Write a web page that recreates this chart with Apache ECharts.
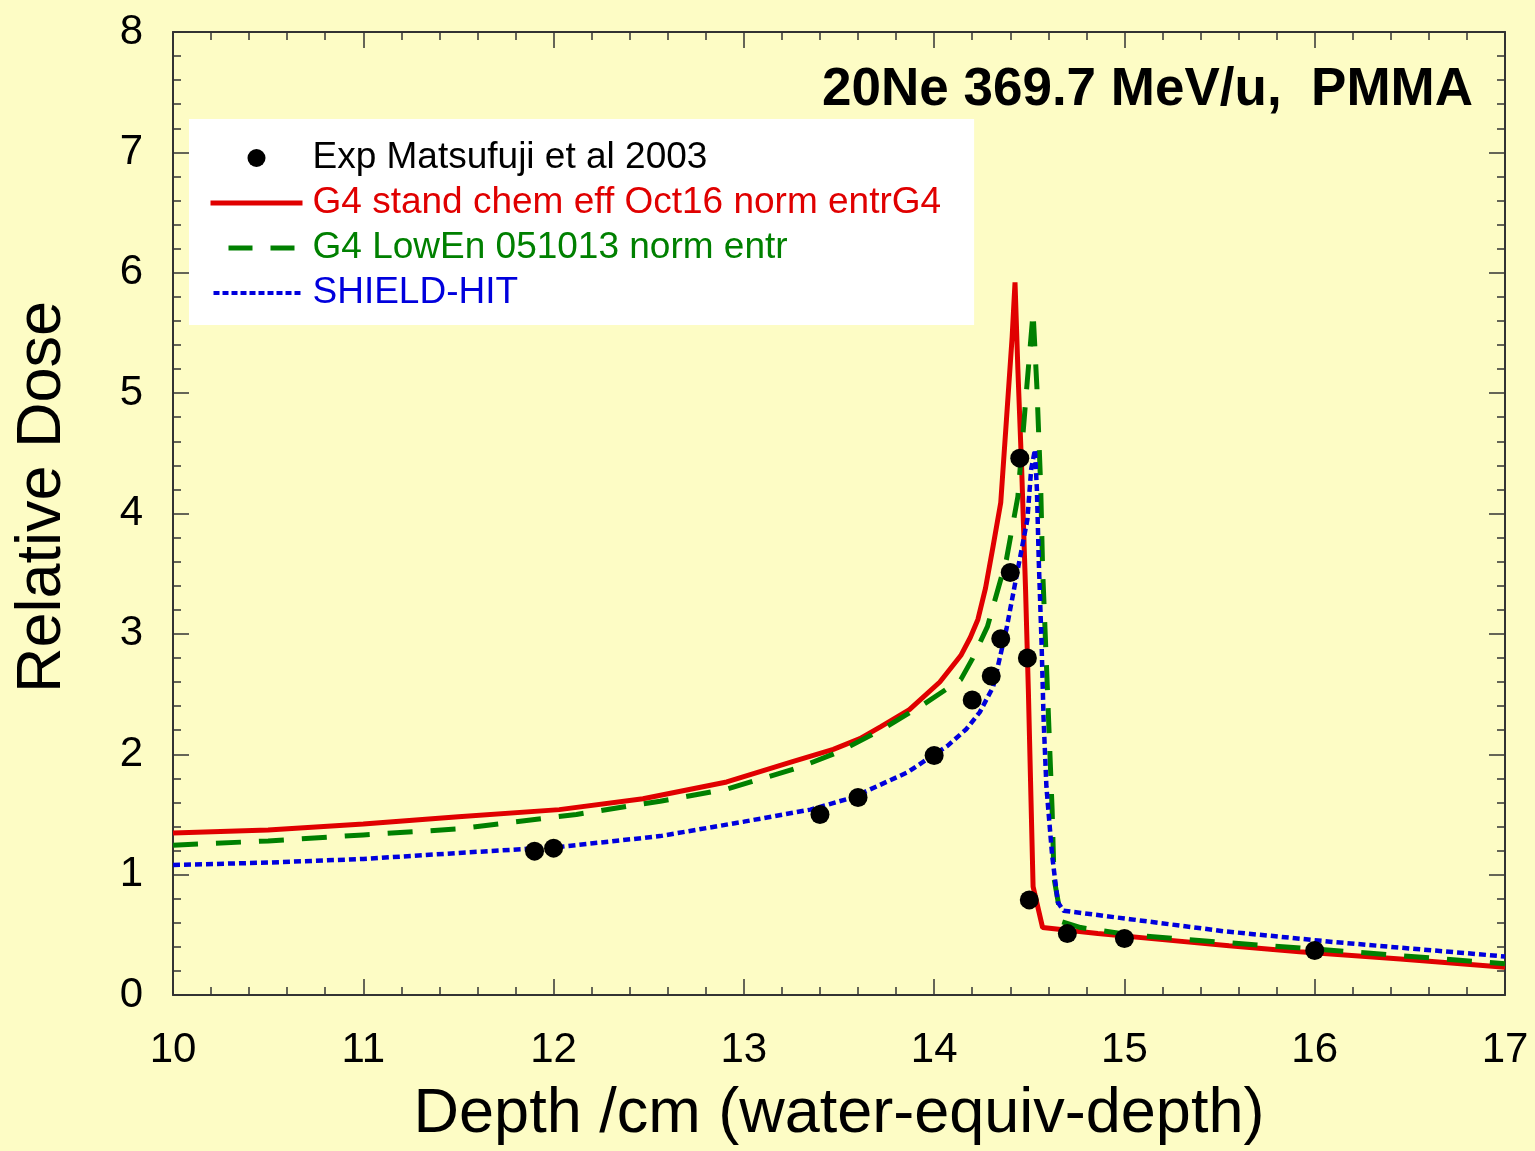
<!DOCTYPE html>
<html>
<head>
<meta charset="utf-8">
<script src="https://cdn.jsdelivr.net/npm/echarts@6/dist/echarts.min.js"></script>
<style>
html,body{margin:0;padding:0;background:#FDFCC5;}
#chart{width:1535px;height:1151px;}
</style>
</head>
<body>
<div id="chart"></div>
<script>
// Tick labels
var xTicks = [10, 11, 12, 13, 14, 15, 16, 17];
var yTicks = [0, 1, 2, 3, 4, 5, 6, 7, 8];

// Experimental points: Matsufuji et al 2003
var expPoints = [
  [11.9, 1.195], [12.0, 1.22], [13.4, 1.50], [13.6, 1.64], [14.0, 1.99],
  [14.2, 2.45], [14.3, 2.65], [14.35, 2.96], [14.4, 3.51], [14.45, 4.46],
  [14.49, 2.80], [14.5, 0.79], [14.7, 0.51], [15.0, 0.47], [16.0, 0.37]
];

// G4 stand chem eff Oct16 norm entrG4
var redLine = [
  [10.0, 1.345], [10.5, 1.37], [11.0, 1.42], [11.5, 1.48], [12.03, 1.54],
  [12.47, 1.63], [12.91, 1.77], [13.26, 1.94], [13.47, 2.04], [13.61, 2.13],
  [13.72, 2.23], [13.87, 2.37], [14.03, 2.60], [14.14, 2.82], [14.19, 2.97],
  [14.23, 3.12], [14.27, 3.38], [14.31, 3.73], [14.35, 4.09], [14.38, 4.78],
  [14.41, 5.47], [14.425, 5.92], [14.44, 5.2], [14.46, 4.37], [14.48, 3.39],
  [14.495, 2.54], [14.52, 0.90], [14.57, 0.56], [14.86, 0.51], [15.2, 0.46],
  [15.55, 0.41], [15.92, 0.36], [16.45, 0.30], [17.0, 0.23]
];

// G4 LowEn 051013 norm entr
var greenLine = [
  [10.0, 1.245], [10.5, 1.28], [11.0, 1.33], [11.5, 1.38], [12.12, 1.50],
  [12.56, 1.61], [12.91, 1.71], [13.29, 1.89], [13.5, 2.02], [13.73, 2.21],
  [13.94, 2.41], [14.14, 2.62], [14.2, 2.79], [14.28, 3.06], [14.38, 3.62],
  [14.44, 4.14], [14.49, 5.11], [14.52, 5.67], [14.54, 5.05], [14.56, 4.22],
  [14.57, 3.54], [14.59, 2.75], [14.62, 1.54], [14.63, 0.97], [14.67, 0.61],
  [14.77, 0.56], [15.03, 0.50], [15.49, 0.44], [16.1, 0.37], [17.0, 0.26]
];

// SHIELD-HIT
var blueLine = [
  [10.0, 1.08], [10.5, 1.10], [11.0, 1.13], [11.5, 1.18], [12.03, 1.23],
  [12.56, 1.32], [13.0, 1.44], [13.35, 1.54], [13.57, 1.64], [13.86, 1.85],
  [14.07, 2.07], [14.17, 2.21], [14.24, 2.35], [14.31, 2.56], [14.38, 3.04],
  [14.44, 3.54], [14.49, 3.95], [14.51, 4.37], [14.53, 4.53], [14.54, 4.2],
  [14.55, 3.6], [14.565, 2.9], [14.575, 2.3], [14.59, 1.73], [14.62, 1.16],
  [14.65, 0.77], [14.68, 0.70], [15.03, 0.63], [15.52, 0.53], [16.1, 0.44],
  [17.0, 0.32]
];

var names = [
  'Exp Matsufuji et al 2003',
  'G4 stand chem eff Oct16 norm entrG4',
  'G4 LowEn 051013 norm entr',
  'SHIELD-HIT'
];
var colors = ['#000000', '#e00000', '#008000', '#0000dd'];

var FONT = '"Liberation Sans", Arial, Helvetica, sans-serif';
var axisColor = '#333333';

function axisBase(isX, show) {
  return {
    type: 'value',
    min: isX ? xTicks[0] : yTicks[0],
    max: isX ? xTicks[xTicks.length - 1] : yTicks[yTicks.length - 1],
    interval: 1,
    axisLine: { show: true, onZero: false, lineStyle: { color: axisColor, width: 2 } },
    axisTick: { show: true, inside: true, length: 16, lineStyle: { color: axisColor, width: 1.5 } },
    minorTick: { show: true, splitNumber: 5, length: 8, lineStyle: { color: axisColor, width: 1.5 } },
    splitLine: { show: false },
    axisLabel: {
      show: show,
      fontFamily: FONT,
      fontSize: 42,
      color: '#000',
      margin: isX ? 34 : 30
    }
  };
}

var xBottom = axisBase(true, true);
xBottom.position = 'bottom';
xBottom.name = 'Depth /cm (water-equiv-depth)';
xBottom.nameLocation = 'middle';
xBottom.nameGap = 88;
xBottom.nameTextStyle = { fontFamily: FONT, fontSize: 63, color: '#000' };
var xTop = axisBase(true, false);
xTop.position = 'top';

var yLeft = axisBase(false, true);
yLeft.position = 'left';
yLeft.name = 'Relative Dose';
yLeft.nameLocation = 'middle';
yLeft.nameGap = 99;
yLeft.nameTextStyle = { fontFamily: FONT, fontSize: 63, color: '#000', padding: [0, 0, 0, 33] };
var yRight = axisBase(false, false);
yRight.position = 'right';

var legendLines = [
  null,
  { width: 5, type: 'solid' },
  { width: 5, type: [24, 18], dashOffset: 24 },
  { width: 4, type: [6, 3] }
];

var chart = echarts.init(document.getElementById('chart'), null, { renderer: 'canvas' });
chart.setOption({
  backgroundColor: '#FDFCC5',
  animation: false,
  grid: { left: 173, top: 32, right: 30, bottom: 155, containLabel: false },
  title: {
    text: '20Ne 369.7 MeV/u,  PMMA',
    right: 62,
    top: 64,
    padding: 0,
    textStyle: { fontFamily: FONT, fontSize: 53, fontWeight: 'bold', color: '#000' }
  },
  legend: {
    orient: 'vertical',
    left: 189,
    top: 119,
    backgroundColor: '#ffffff',
    padding: [19, 33, 12, 19],
    itemWidth: 92,
    itemHeight: 18,
    itemGap: 5,
    textStyle: { fontFamily: FONT, fontSize: 37, lineHeight: 40, padding: [0, 0, 0, 5] },
    data: names.map(function (n, i) {
      var item = {
        name: n,
        textStyle: { color: colors[i] },
        itemStyle: { opacity: i === 0 ? 1 : 0 }
      };
      if (legendLines[i]) {
        item.lineStyle = legendLines[i];
      }
      return item;
    })
  },
  xAxis: [xBottom, xTop],
  yAxis: [yLeft, yRight],
  series: [
    {
      name: names[1], type: 'line', data: redLine, symbol: 'none', z: 3,
      lineStyle: { color: colors[1], width: 5 }, itemStyle: { color: colors[1] }
    },
    {
      name: names[2], type: 'line', data: greenLine, symbol: 'none', z: 4,
      lineStyle: { color: colors[2], width: 5, type: [25, 18] }, itemStyle: { color: colors[2] }
    },
    {
      name: names[3], type: 'line', data: blueLine, symbol: 'none', z: 5,
      lineStyle: { color: colors[3], width: 4.5, type: [7, 4] }, itemStyle: { color: colors[3] }
    },
    {
      name: names[0], type: 'scatter', data: expPoints, symbol: 'circle', symbolSize: 19, z: 10,
      itemStyle: { color: colors[0], opacity: 1 }
    }
  ]
});
</script>
</body>
</html>
